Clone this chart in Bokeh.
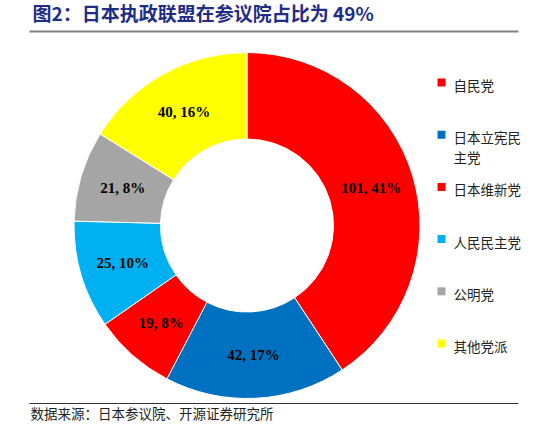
from bokeh.plotting import figure
from bokeh.models import Range1d, ColumnDataSource
from bokeh.core.properties import value
from bokeh.embed import file_html
from bokeh.resources import INLINE
import numpy as np

# data
parties = ["自民党", "日本立宪民主党", "日本维新党", "人民民主党", "公明党", "其他党派"]
legend_labels = ["自民党", "日本立宪民\n主党", "日本维新党", "人民民主党", "公明党", "其他党派"]
seats = [101, 42, 19, 25, 21, 40]
colors = ["#FF0000", "#0070C0", "#FF0000", "#00B0F0", "#A5A5A5", "#FFFF00"]

title = "图2：日本执政联盟在参议院占比为 49%"
source_note = "数据来源：日本参议院、开源证券研究所"

PW, PH = 530, 423
SHIFT = 3  # pull layout up a little so the source line fits

def Y(py):
    # picture pixel row -> data y
    return PH - (py - SHIFT)

p = figure(width=PW, height=PH, output_backend="svg", toolbar_location=None,
           x_range=Range1d(0, PW), y_range=Range1d(0, PH),
           min_border=0, outline_line_color=None)
p.axis.visible = False
p.grid.visible = False

# donut
cx, cy = 246.5, Y(228)
r_out, r_in = 173, 86.5
vals = np.array(seats, dtype=float)
frac = vals / vals.sum()
cum = np.concatenate([[0], np.cumsum(frac)])
start = np.pi / 2 - cum[1:] * 2 * np.pi
end = np.pi / 2 - cum[:-1] * 2 * np.pi
mid = (start + end) / 2
pct = [int(round(f * 100)) for f in frac]
labels = [f"{s}, {q}%" for s, q in zip(seats, pct)]
r_mid = (r_out + r_in) / 2

src = ColumnDataSource(dict(start=start, end=end, color=colors, party=parties,
                            lx=cx + r_mid * np.cos(mid), ly=cy + r_mid * np.sin(mid),
                            label=labels))
p.annular_wedge(x=cx, y=cy, inner_radius=r_in, outer_radius=r_out,
                start_angle="start", end_angle="end", fill_color="color",
                line_color="white", line_width=1, source=src)
p.text(x="lx", y="ly", text="label", source=src, text_align="center",
       text_baseline="middle", text_font=value("Liberation Serif"),
       text_font_style="bold", text_font_size="15px", text_color="black")

# legend
ly0, lstep = Y(85), 52.2
leg_y = [ly0 - i * lstep for i in range(len(parties))]
leg = ColumnDataSource(dict(y=leg_y, ty=[v + 7.5 for v in leg_y], color=colors,
                            label=legend_labels))
p.rect(x=441, y="y", width=8, height=8, fill_color="color", line_color=None, source=leg)
p.text(x=453, y="ty", text="label", source=leg, text_align="left", text_baseline="top",
       text_font=value("Noto Sans CJK SC"), text_font_size="13.5px",
       text_line_height=1.0, text_color="#222222")

# title, rules and source
p.text(x=[32], y=[Y(15)], text=[title], text_align="left", text_baseline="middle",
       text_font=value("Noto Sans CJK SC"), text_font_style="bold",
       text_font_size="19px", text_color="#1F2D86")
p.segment(x0=[29], y0=[Y(34)], x1=[518], y1=[Y(34)], line_color="#7F7F7F", line_width=2)
p.segment(x0=[29], y0=[Y(406)], x1=[518], y1=[Y(406)], line_color="#333333", line_width=1.2)
p.text(x=[30], y=[Y(415.5)], text=[source_note], text_align="left", text_baseline="middle",
       text_font=value("Noto Sans CJK SC"), text_font_size="13.5px", text_color="#222222")

open("out.html", "w").write(file_html(p, INLINE))
